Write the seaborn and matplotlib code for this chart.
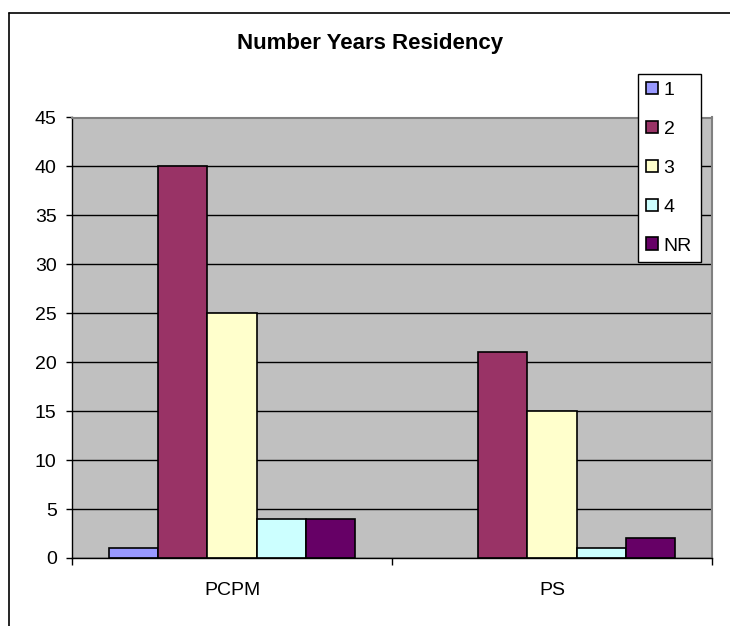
import pandas as pd
import numpy as np
import matplotlib
matplotlib.use('Agg')
import matplotlib.pyplot as plt
import seaborn as sns
from matplotlib.lines import Line2D

# 데이터
groups = ['PCPM', 'PS']
years = ['1', '2', '3', '4', 'NR']
pcpm_vals = [1, 40, 25, 4, 4]
ps_vals = [0, 21, 15, 1, 2]
colors = ['#9999FF', '#993366', '#FFFFCC', '#CCFFFF', '#660066']

df = pd.DataFrame({
    'group': ['PCPM'] * len(years) + ['PS'] * len(years),
    'year': years * 2,
    'value': pcpm_vals + ps_vals,
})

sns.set_style('white', {'text.color': 'black', 'xtick.color': 'black', 'ytick.color': 'black'})
plt.rcParams['font.family'] = ['Liberation Sans', 'DejaVu Sans']

fig = plt.figure(figsize=(7.3, 6.26), dpi=100)
W, H = 730, 626
ax = fig.add_axes([72 / W, 1 - 558 / H, (712 - 72) / W, (558 - 117.5) / H])

sns.barplot(data=df, x='group', y='value', hue='year', order=groups,
            hue_order=years, palette=colors, width=0.77, gap=0,
            edgecolor='black', linewidth=1.2, saturation=1, ax=ax, legend=True)

# 높이 0인 막대는 테두리 숨김
for cont in ax.containers:
    for p in cont:
        if p.get_height() == 0:
            p.set_visible(False)

ax.set_facecolor('#C0C0C0')
ax.set_ylim(0, 45)
ax.set_xlim(-0.5, 1.5)
ax.set_yticks(np.arange(0, 46, 5))
ax.yaxis.grid(True, color='black', linewidth=1)
ax.set_axisbelow(True)
for s in ['top', 'right']:
    ax.spines[s].set_color('#808080')
    ax.spines[s].set_linewidth(1.5)
for s in ['left', 'bottom']:
    ax.spines[s].set_color('black')
    ax.spines[s].set_linewidth(1)
ax.set_xlabel('')
ax.set_ylabel('')
ax.tick_params(axis='y', length=4, width=1, color='black', labelcolor='black', labelsize=14, pad=7,
               direction='out', left=True)
ax.tick_params(axis='x', which='major', length=0, labelcolor='black', labelsize=14, pad=17)
ax.set_xticks([-0.5, 0.5, 1.5], minor=True)
ax.tick_params(axis='x', which='minor', length=5, width=1, color='black', bottom=True)

# 범례
handles, labels = ax.get_legend_handles_labels()
leg = ax.legend(handles, labels, loc='upper left',
                bbox_to_anchor=(638 / W, 1 - 74 / H, (701 - 638) / W, 0), bbox_transform=fig.transFigure,
                mode='expand', frameon=True, fancybox=False, edgecolor='black', facecolor='white',
                framealpha=1, fontsize=14, handlelength=0.62, handleheight=0.62, handletextpad=0.3,
                labelspacing=1.12, borderpad=0.4, borderaxespad=0)
for t in leg.get_texts():
    t.set_color('black')
for h in leg.legend_handles:
    h.set_edgecolor('black')
    h.set_linewidth(1.2)

fig.text(370 / W, 1 - 44 / H, 'Number Years Residency', ha='center', va='center',
         fontsize=16, fontweight='bold', color='black')

# 외곽선 (왼쪽, 위쪽만 보임)
fig.add_artist(Line2D([8.5 / W, 8.5 / W], [0, 1 - 13 / H], color='black', linewidth=1.2))
fig.add_artist(Line2D([8.5 / W, 1], [1 - 13 / H, 1 - 13 / H], color='black', linewidth=1.2))

fig.savefig('out.png', dpi=100)
